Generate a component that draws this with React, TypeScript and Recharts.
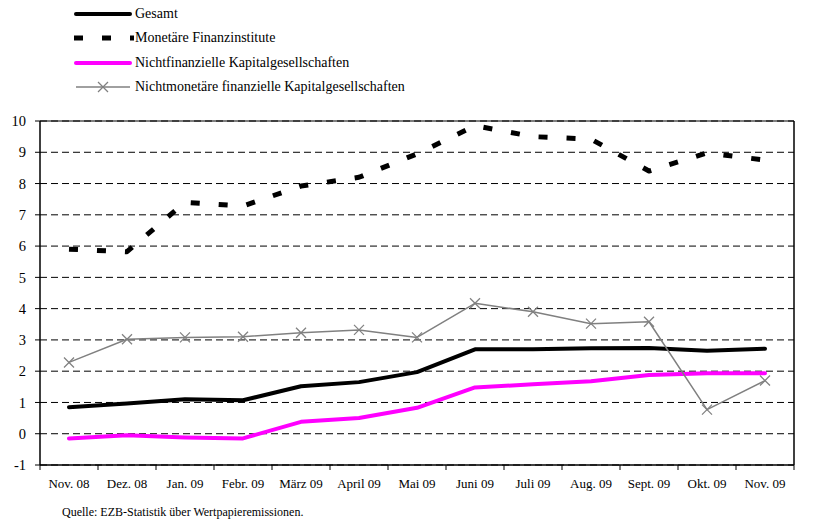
import React from "react";
import {
  ComposedChart,
  Line,
  XAxis,
  YAxis,
  CartesianGrid,
  ReferenceLine,
} from "recharts";

const months = [
  "Nov. 08",
  "Dez. 08",
  "Jan. 09",
  "Febr. 09",
  "März 09",
  "April 09",
  "Mai 09",
  "Juni 09",
  "Juli 09",
  "Aug. 09",
  "Sept. 09",
  "Okt. 09",
  "Nov. 09",
];

const gesamt = [0.85, 0.97, 1.1, 1.07, 1.52, 1.65, 1.97, 2.7, 2.7, 2.73, 2.74, 2.65, 2.72];
const monetaere = [5.9, 5.82, 7.4, 7.28, 7.92, 8.2, 8.95, 9.85, 9.5, 9.42, 8.4, 8.98, 8.75];
const nichtfinanzielle = [-0.15, -0.05, -0.12, -0.15, 0.38, 0.5, 0.83, 1.48, 1.58, 1.68, 1.88, 1.93, 1.93];
const nichtmonetaere = [2.28, 3.02, 3.08, 3.1, 3.23, 3.32, 3.08, 4.17, 3.9, 3.52, 3.58, 0.77, 1.7];

const yTicks = [-1, 0, 1, 2, 3, 4, 5, 6, 7, 8, 9, 10];

const data = months.map((m, i) => ({
  month: m,
  gesamt: gesamt[i],
  monetaere: monetaere[i],
  nichtfinanzielle: nichtfinanzielle[i],
  nichtmonetaere: nichtmonetaere[i],
}));

const FONT = '"Times New Roman", "Liberation Serif", "DejaVu Serif", serif';
const X_MARGIN = 14;

const series = [
  { key: "gesamt", name: "Gesamt", color: "#000000", width: 4, dash: undefined as string | undefined, cross: false },
  { key: "monetaere", name: "Monetäre Finanzinstitute", color: "#000000", width: 5, dash: "9 19", cross: false },
  { key: "nichtfinanzielle", name: "Nichtfinanzielle Kapitalgesellschaften", color: "#ff00ff", width: 4, dash: undefined, cross: false },
  { key: "nichtmonetaere", name: "Nichtmonetäre finanzielle Kapitalgesellschaften", color: "#808080", width: 1.5, dash: undefined, cross: true },
];

function CrossDot(props: any) {
  const { cx, cy } = props;
  if (cx == null || cy == null) return null;
  const s = 5;
  return (
    <g stroke="#808080" strokeWidth={1.3}>
      <line x1={cx - s} y1={cy - s} x2={cx + s} y2={cy + s} />
      <line x1={cx - s} y1={cy + s} x2={cx + s} y2={cy - s} />
    </g>
  );
}

function MonthTick(props: any) {
  const { x, y, payload, index } = props;
  const off = payload.offset ?? 0;
  const axisY = y - X_MARGIN;
  return (
    <g>
      <line x1={x - off} y1={axisY} x2={x - off} y2={axisY + 5} stroke="#000" />
      {index === months.length - 1 && (
        <line x1={x + off} y1={axisY} x2={x + off} y2={axisY + 5} stroke="#000" />
      )}
      <text x={x} y={y} dy="0.71em" textAnchor="middle" fontSize={13} style={{ fontFamily: FONT }} fill="#000">
        {payload.value}
      </text>
    </g>
  );
}

function LegendBox() {
  return (
    <div style={{ position: "absolute", left: 74, top: 2, fontFamily: FONT, fontSize: 14, color: "#000" }}>
      {series.map((s) => (
        <div key={s.key} style={{ display: "flex", alignItems: "center", height: 24.3 }}>
          <svg width={60} height={12} style={{ marginRight: 1 }}>
            <line
              x1={s.dash ? 0 : 2}
              y1={6}
              x2={s.dash ? 60 : 56}
              y2={6}
              stroke={s.color}
              strokeWidth={s.width}
              strokeDasharray={s.dash}
              strokeLinecap={s.dash || s.cross ? "butt" : "round"}
            />
            {s.cross && (
              <g stroke="#808080" strokeWidth={1.3}>
                <line x1={24} y1={1} x2={34} y2={11} />
                <line x1={24} y1={11} x2={34} y2={1} />
              </g>
            )}
          </svg>
          <span>{s.name}</span>
        </div>
      ))}
    </div>
  );
}

const tickStyle = { fill: "#000", fontSize: 14.5, style: { fontFamily: FONT } };

export default function App() {
  return (
    <div style={{ position: "absolute", left: 0, top: 0, width: 828, height: 528, background: "#fff", fontFamily: FONT }}>
      <ComposedChart
        width={828}
        height={528}
        data={data}
        margin={{ top: 121, right: 0, left: 0, bottom: 0 }}
        style={{ fontFamily: FONT }}
      >
        <CartesianGrid vertical={false} stroke="#000" strokeDasharray="7 4" yAxisId="left" />
        <XAxis
          dataKey="month"
          scale="band"
          height={63}
          axisLine={{ stroke: "#000", strokeWidth: 1.5 }}
          tickLine={false}
          tickSize={0}
          tickMargin={X_MARGIN}
          tick={<MonthTick />}
          interval={0}
        />
        <YAxis
          yAxisId="left"
          width={40}
          domain={[-1, 10]}
          ticks={yTicks}
          interval={0}
          axisLine={{ stroke: "#000", strokeWidth: 1.5 }}
          tickLine={{ stroke: "#000" }}
          tickSize={5}
          tickMargin={9}
          tick={tickStyle}
        />
        <YAxis
          yAxisId="right"
          orientation="right"
          width={34}
          domain={[-1, 10]}
          ticks={yTicks}
          interval={0}
          axisLine={{ stroke: "#000", strokeWidth: 1.5 }}
          tickLine={{ stroke: "#000" }}
          tickSize={5}
          tickMargin={8}
          tick={tickStyle}
        />
        <ReferenceLine yAxisId="left" y={10} stroke="#000" strokeWidth={1.2} />
        {series.map((s) => (
          <Line
            key={s.key}
            yAxisId="left"
            type="linear"
            dataKey={s.key}
            name={s.name}
            stroke={s.color}
            strokeWidth={s.width}
            strokeDasharray={s.dash}
            strokeLinejoin="round"
            strokeLinecap={s.dash ? "butt" : "round"}
            dot={s.cross ? <CrossDot /> : false}
            activeDot={false}
            isAnimationActive={false}
          />
        ))}
      </ComposedChart>
      <LegendBox />
      <div
        style={{
          position: "absolute",
          left: 62,
          top: 505,
          fontSize: 12,
          color: "#000",
        }}
      >
        Quelle: EZB-Statistik über Wertpapieremissionen.
      </div>
    </div>
  );
}
